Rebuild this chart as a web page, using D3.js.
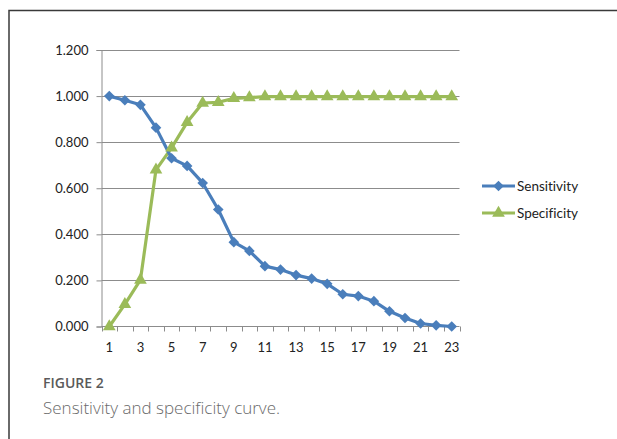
<!DOCTYPE html>
<html><head><meta charset="utf-8">
<script src="https://cdn.jsdelivr.net/npm/d3@7"></script>
<style>
html,body{margin:0;padding:0;background:#fff;}
svg{display:block;}
text{font-variant-ligatures:none;font-feature-settings:"liga" 0;}
</style></head>
<body>
<svg id="chart" width="617" height="439"></svg>
<script>
const categories = d3.range(1, 24);
const sensitivity = [1.000, 0.982, 0.962, 0.863, 0.730, 0.697, 0.623, 0.508, 0.366, 0.328, 0.262, 0.247, 0.223, 0.208, 0.185, 0.140, 0.132, 0.110, 0.066, 0.037, 0.013, 0.005, 0.000];
const specificity = [0.000, 0.096, 0.202, 0.680, 0.775, 0.886, 0.970, 0.973, 0.990, 0.993, 0.998, 0.998, 0.998, 0.998, 0.998, 0.998, 0.998, 0.998, 0.998, 0.998, 0.998, 0.998, 0.998];
const yTicks = [0, 0.2, 0.4, 0.6, 0.8, 1.0, 1.2];
const xTickLabels = [1, 3, 5, 7, 9, 11, 13, 15, 17, 19, 21, 23];
const seriesNames = ["Sensitivity", "Specificity"];
const captionTitle = "FIGURE 2";
const captionText = "Sensitivity and specificity curve.";

(function () {
const svg = d3.select("#chart");
const pLeft = 101.5, pRight = 459.5, pTop = 50, pBottom = 326.5;
const font = "Lato, 'Open Sans', sans-serif";

// frame
svg.append("path").attr("d", `M9,439 V10.5 H617`).attr("fill", "none").attr("stroke", "#3a3a3a").attr("stroke-width", 1.5);

const x = d3.scaleBand().domain(categories).range([pLeft, pRight]).padding(0);
const y = d3.scaleLinear().domain([0, 1.2]).range([pBottom, pTop]);
const cx = d => x(d) + x.bandwidth() / 2;

// gridlines
svg.append("g").selectAll("line").data(yTicks.filter(v => v > 0)).join("line")
  .attr("x1", pLeft).attr("x2", pRight)
  .attr("y1", d => Math.round(y(d)) + 0.5).attr("y2", d => Math.round(y(d)) + 0.5)
  .attr("stroke", "#8c8c8c").attr("stroke-width", 1);

// y axis
const yAxis = d3.axisLeft(y).tickValues(yTicks).tickFormat(d3.format(".3f")).tickSize(5).tickPadding(8);
const gy = svg.append("g").attr("transform", `translate(${pLeft},0)`).call(yAxis);
gy.select(".domain").attr("stroke", "#8c8c8c");
gy.selectAll(".tick line").attr("stroke", "#8c8c8c");
gy.selectAll(".tick text").attr("font-family", font).attr("font-size", 13).attr("fill", "#222");

// x axis with ticks at category boundaries
const gx = svg.append("g").attr("transform", `translate(0,${pBottom})`);
gx.append("line").attr("x1", pLeft).attr("x2", pRight).attr("stroke", "#8c8c8c");
const bounds = categories.map(c => x(c)).concat([pRight]);
gx.selectAll("line.tk").data(bounds).join("line").attr("class", "tk")
  .attr("x1", d => Math.round(d) + 0.5).attr("x2", d => Math.round(d) + 0.5)
  .attr("y1", 0).attr("y2", 5).attr("stroke", "#8c8c8c");
gx.selectAll("text").data(xTickLabels).join("text")
  .attr("x", d => cx(d)).attr("y", 25).attr("text-anchor", "middle")
  .attr("font-family", font).attr("font-size", 13).attr("fill", "#222").text(d => d);

const blue = "#4a7ebb", green = "#9bbb59";
const line = d3.line().x((d, i) => cx(categories[i])).y(d => y(d));

svg.append("path").datum(specificity).attr("d", line).attr("fill", "none").attr("stroke", green).attr("stroke-width", 3.2).attr("stroke-linejoin", "round");
svg.append("path").datum(sensitivity).attr("d", line).attr("fill", "none").attr("stroke", blue).attr("stroke-width", 3.2).attr("stroke-linejoin", "round");

const diamond = d3.symbol().type(d3.symbolDiamond2).size(72);
const tri = d3.symbol().type(d3.symbolTriangle).size(70);

svg.append("g").selectAll("path").data(sensitivity).join("path")
  .attr("d", diamond).attr("transform", (d, i) => `translate(${cx(categories[i])},${y(d)})`)
  .attr("fill", blue);
svg.append("g").selectAll("path").data(specificity).join("path")
  .attr("d", tri).attr("transform", (d, i) => `translate(${cx(categories[i])},${y(d)})`)
  .attr("fill", green);

// legend
const legend = svg.append("g");
const legendRows = [{name: seriesNames[0], color: blue, sym: diamond, y: 186}, {name: seriesNames[1], color: green, sym: tri, y: 213}];
legendRows.forEach(r => {
  legend.append("line").attr("x1", 482).attr("x2", 515).attr("y1", r.y).attr("y2", r.y).attr("stroke", r.color).attr("stroke-width", 3.2);
  legend.append("path").attr("d", r.sym).attr("transform", `translate(498.5,${r.y})`).attr("fill", r.color);
  legend.append("text").attr("x", 517).attr("y", r.y + 4.5).attr("font-family", font).attr("font-size", 13.5).attr("fill", "#222").text(r.name);
});

// caption
svg.append("text").attr("x", 43).attr("y", 388).attr("font-family", "'Open Sans', sans-serif").attr("font-size", 14).attr("font-weight", 600).attr("fill", "#5a5a5a").text(captionTitle);
svg.append("text").attr("x", 43).attr("y", 414).attr("font-family", "'Open Sans', sans-serif").attr("font-size", 17).attr("font-weight", 300).attr("fill", "#6a6a6a").text(captionText);
})();
</script>
</body></html>
